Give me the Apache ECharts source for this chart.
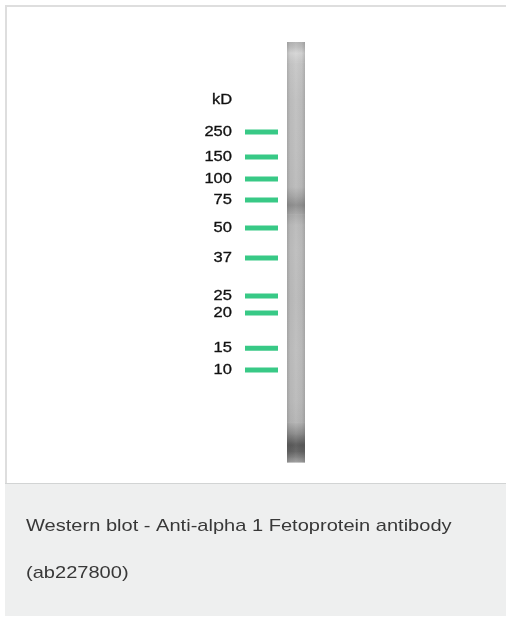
<!DOCTYPE html>
<html>
<head>
<meta charset="utf-8">
<script src="https://cdn.jsdelivr.net/npm/echarts@6/dist/echarts.min.js"></script>
<style>
html,body{margin:0;padding:0;background:#fff;}
#c{width:506px;height:617px;}
</style>
</head>
<body>
<div id="c"></div>
<script>
// Marker ladder (kD) and migration distance (% of lane length from the well)
var markerLabels = ['250','150','100','75','50','37','25','20','15','10'];
var markerMigration = [21.4, 27.4, 32.6, 37.6, 44.3, 51.4, 60.5, 64.5, 72.9, 78.1];
// Lane density profile read along the lane: migration (%) and optical density (0-1)
var laneMigration = [0, 1.4, 2.6, 4.8, 13.8, 25.7, 34.5, 37.0, 38.8, 41.0, 43.5, 49.5, 61.4, 73.3, 85.2, 90.5, 93.5, 95.8, 97.5, 99.0, 100];
var laneDensity   = [0.30, 0.24, 0.16, 0.22, 0.25, 0.26, 0.27, 0.37, 0.45, 0.34, 0.27, 0.26, 0.27, 0.26, 0.27, 0.30, 0.48, 0.66, 0.62, 0.48, 0.38];
var unitLabel = 'kD';
var captionLines = ['Western blot - Anti-alpha 1 Fetoprotein antibody', '(ab227800)'];

var chart = echarts.init(document.getElementById('c'), null, {renderer: 'canvas'});

function grayOf(d, k) {
  var v = Math.max(0, Math.min(255, Math.round(255 * (1 - d) * k)));
  return 'rgb(' + v + ',' + v + ',' + v + ')';
}

var markerData = markerMigration.map(function (m, i) { return [0, m, markerLabels[i]]; });
var laneData = [];
for (var i = 0; i < laneMigration.length - 1; i++) {
  laneData.push([0, laneMigration[i], laneMigration[i + 1], laneDensity[i], laneDensity[i + 1]]);
}

var font = '"Liberation Sans", Arial, Helvetica, sans-serif';
var SX = 1.18;

chart.setOption({
  animation: false,
  backgroundColor: 'transparent',
  graphic: [
    {type: 'rect', z: -10, shape: {x: 5, y: 5, width: 501, height: 479}, style: {fill: '#dedede'}},
    {type: 'rect', z: -9, shape: {x: 7, y: 7, width: 499, height: 476}, style: {fill: '#ffffff'}},
    {type: 'rect', z: -9, shape: {x: 5, y: 483, width: 501, height: 1}, style: {fill: '#d2d4d4'}},
    {type: 'rect', z: -9, shape: {x: 5, y: 484, width: 501, height: 132}, style: {fill: '#eeefef'}},
    {type: 'text', z: 5, x: 26, y: 526, scaleX: SX, style: {x: 0, y: 0, text: captionLines[0], font: '17px ' + font, fill: '#383838', textVerticalAlign: 'middle'}},
    {type: 'text', z: 5, x: 26, y: 573, scaleX: SX, style: {x: 0, y: 0, text: captionLines[1], font: '17px ' + font, fill: '#383838', textVerticalAlign: 'middle'}},
    {type: 'text', z: 5, x: 222, y: 100, scaleX: SX, style: {x: 0, y: 0, text: unitLabel, font: '14px ' + font, fill: '#111111', textAlign: 'center', textVerticalAlign: 'middle', stroke: '#111111', lineWidth: 0.3}}
  ],
  grid: {left: 240, width: 70, top: 42, bottom: 155, containLabel: false},
  xAxis: {type: 'value', min: 0, max: 1, show: false},
  yAxis: {type: 'value', min: 0, max: 100, inverse: true, show: false},
  series: [
    {
      type: 'custom',
      name: 'lane',
      data: laneData,
      renderItem: function (params, api) {
        var cs = params.coordSys;
        var y0 = api.coord([0, api.value(1)])[1];
        var y1 = api.coord([0, api.value(2)])[1];
        var d0 = api.value(3), d1 = api.value(4);
        var x = cs.x + 47, w = 18;
        return {
          type: 'group',
          children: [
            {type: 'rect', shape: {x: x, y: y0, width: w, height: y1 - y0 + 0.6},
              style: {fill: new echarts.graphic.LinearGradient(0, 0, 0, 1, [
                {offset: 0, color: grayOf(d0, 1)}, {offset: 1, color: grayOf(d1, 1)}])}},
            {type: 'rect', shape: {x: x, y: y0, width: w, height: y1 - y0 + 0.6},
              style: {fill: new echarts.graphic.LinearGradient(0, 0, 1, 0, [
                {offset: 0, color: 'rgba(80,80,80,0.22)'},
                {offset: 0.18, color: 'rgba(80,80,80,0.04)'},
                {offset: 0.5, color: 'rgba(255,255,255,0.06)'},
                {offset: 0.82, color: 'rgba(80,80,80,0.04)'},
                {offset: 1, color: 'rgba(80,80,80,0.22)'}])}}
          ]
        };
      }
    },
    {
      type: 'custom',
      name: 'markers',
      data: markerData,
      renderItem: function (params, api) {
        var cs = params.coordSys;
        var y = api.coord([0, api.value(1)])[1];
        return {
          type: 'group',
          children: [
            {type: 'rect', shape: {x: cs.x + 5, y: y - 2.5, width: 33, height: 5},
              style: {fill: '#38c986'}},
            {type: 'text', x: cs.x - 8, y: y, scaleX: SX,
              style: {x: 0, y: 0, text: markerLabels[params.dataIndex],
              font: '14px ' + font, fill: '#111111', stroke: '#111111', lineWidth: 0.3,
              textAlign: 'right', textVerticalAlign: 'middle'}}
          ]
        };
      }
    }
  ]
});
</script>
</body>
</html>
